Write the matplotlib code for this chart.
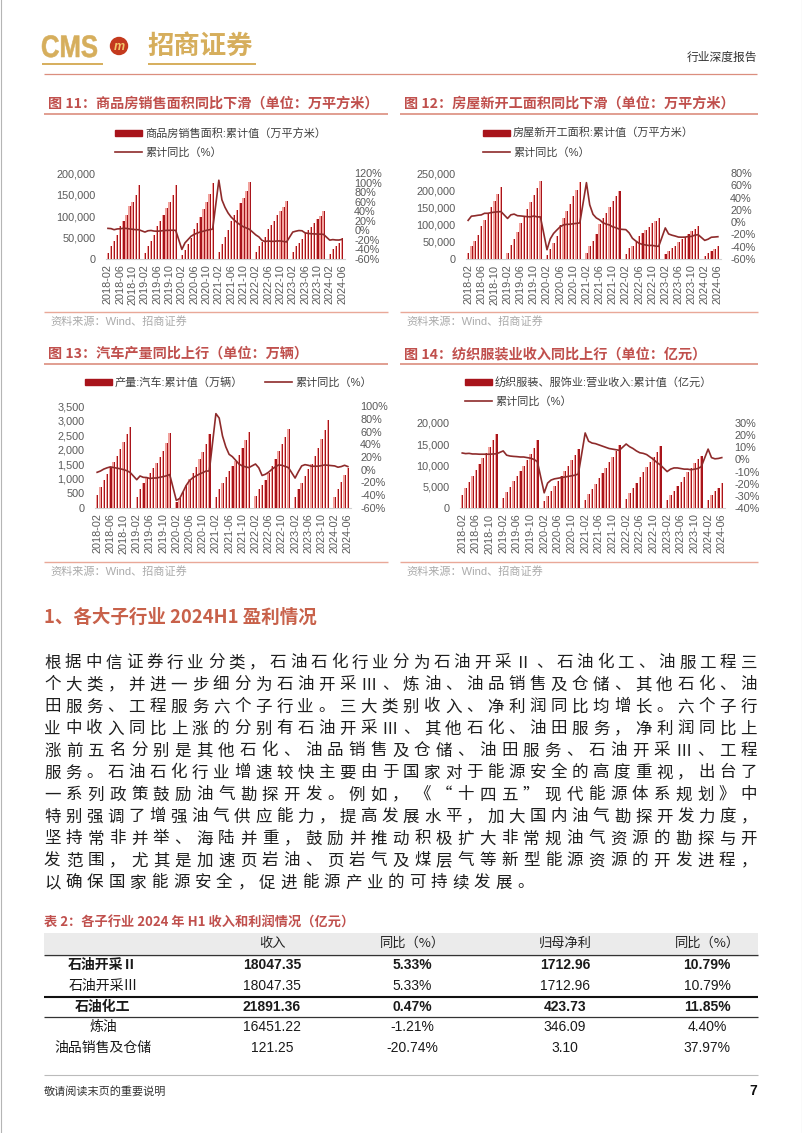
import numpy as np
import matplotlib
matplotlib.use("Agg")
from matplotlib import pyplot as plt
from matplotlib.patches import Rectangle, Circle, PathPatch
from matplotlib.textpath import TextPath
from matplotlib.font_manager import FontProperties
from matplotlib.transforms import Affine2D

plt.rcParams['font.family'] = ['Liberation Sans', 'Noto Sans CJK SC', 'DejaVu Sans']
CJK = ['Noto Sans CJK SC', 'DejaVu Sans']

# ---- data -------------------------------------------------------------
months = []
for yr in range(2018, 2025):
    for mo in range(1, 13):
        if (yr == 2018 and mo < 2) or (yr == 2024 and mo > 6):
            continue
        months.append(f"{yr}-{mo:02d}")
# Jan is merged into Feb in the source data, so January has no value
x_valid = [i for i, m in enumerate(months) if not m.endswith("-01")]

# fig 11: 商品房销售面积 累计值 (万平方米) / 累计同比 (%)
sales_area = [14577, 30129, 42390, 55718, 77143, 88333, 102820, 124327, 133392, 148604, 171654,
              14102, 29829, 41099, 55518, 75786, 88760, 101849, 119200, 133251, 148905, 171558,
              8475, 21978, 33973, 48700, 69404, 83600, 98500, 117073, 133000, 150800, 176086,
              17363, 36007, 50300, 66400, 88635, 101600, 114200, 130300, 142700, 158000, 179433,
              15703, 31046, 39768, 50738, 68923, 78178, 87890, 101422, 111179, 121250, 135837,
              15133, 29946, 37636, 46440, 59515, 66563, 73949, 84806, 92579, 100509, 111735,
              11369, 22668, 29252, 36642, 47916]
sales_yoy = [4.1, 3.6, 1.3, 2.9, 3.3, 4.2, 4.0, 2.9, 2.2, 1.4, 1.3,
             -3.6, -0.9, -0.3, -1.6, -1.8, -1.3, -0.6, -0.1, 0.1, 0.2, -0.1,
             -39.9, -26.3, -19.3, -12.3, -8.4, -5.8, -3.3, -1.8, 0.0, 1.3, 2.6,
             104.9, 63.8, 48.1, 36.3, 27.7, 21.5, 15.9, 11.3, 7.3, 4.8, 1.9,
             -9.6, -13.8, -20.9, -23.6, -22.2, -23.1, -23.0, -22.2, -22.3, -23.3, -24.3,
             -3.6, -1.8, -0.4, -0.9, -5.3, -6.5, -7.1, -7.5, -7.8, -8.0, -8.5,
             -20.5, -19.4, -20.2, -20.3, -19.0]

# fig 12: 房屋新开工面积 累计值 (万平方米) / 累计同比 (%)
starts_area = [18124, 36482, 51064, 69900, 95817, 114000, 133000, 152000, 170000, 188895, 209342,
               18814, 40800, 57800, 77200, 105500, 124800, 144800, 165000, 187000, 205100, 227154,
               10370, 29700, 47200, 67300, 97536, 119200, 139600, 159400, 182100, 201000, 224433,
               17040, 38100, 53200, 71900, 101000, 118100, 135100, 152200, 168100, 182700, 198895,
               14960, 31400, 39200, 49900, 66423, 75500, 84800, 94400, 104600, 111600, 120587,
               13567, 24121, 30900, 38600, 49880, 57000, 64100, 72300, 80300, 87900, 95376,
               9429, 17400, 23300, 29300, 38000]
starts_yoy = [2.9, 9.7, 10.3, 11.2, 11.8, 14.4, 14.4, 15.5, 16.3, 16.8, 17.2,
              6.0, 11.9, 13.1, 10.5, 10.1, 9.5, 8.9, 8.6, 10.0, 8.6, 8.5,
              -44.9, -27.2, -18.4, -12.8, -7.6, -4.5, -3.6, -3.4, -2.6, -2.0, -1.2,
              64.3, 28.2, 12.8, 6.9, 3.8, -0.9, -3.2, -4.5, -7.7, -9.1, -11.4,
              -12.2, -17.5, -26.3, -30.6, -34.4, -36.1, -37.2, -38.0, -37.8, -38.9, -39.4,
              -9.4, -19.2, -21.2, -22.6, -24.3, -24.5, -24.4, -23.4, -23.2, -21.2, -20.4,
              -29.7, -27.8, -24.6, -24.2, -23.7]

# fig 13: 产量:汽车 累计值 (万辆) / 累计同比 (%)
car_output = [431, 711, 946, 1178, 1406, 1594, 1799, 2035, 2272, 2540, 2781,
              374, 655, 860, 1045, 1213, 1363, 1535, 1750, 1960, 2240, 2572,
              195, 347, 557, 776, 1011, 1197, 1416, 1671, 1927, 2211, 2523,
              390, 635, 857, 1058, 1257, 1445, 1620, 1824, 2057, 2317, 2608,
              420, 662, 783, 977, 1212, 1457, 1693, 1963, 2202, 2439, 2702,
              384, 641, 850, 1081, 1325, 1526, 1780, 2070, 2380, 2690, 3016,
              391, 660, 900, 1140, 1389]
car_yoy = [-4.0, -2.0, 1.0, 3.0, 4.5, 3.5, 2.5, 1.5, 0.2, -1.5, -4.2,
           -15.6, -9.8, -11.9, -12.2, -13.7, -13.0, -12.9, -11.8, -10.8, -9.5, -7.5,
           -48.0, -45.2, -35.0, -24.5, -17.0, -12.5, -9.7, -6.7, -4.6, -2.0, -2.0,
           88.0, 81.0, 53.0, 36.0, 24.2, 20.5, 14.8, 9.0, 6.0, 4.5, 3.4,
           9.0, 3.0, -9.0, -7.1, -3.7, 0.8, 4.5, 7.5, 7.0, 5.3, 3.4,
           -13.0, -3.0, 6.0, 8.0, 7.0, 5.5, 5.5, 5.6, 6.5, 7.5, 7.0,
           6.0, 4.0, 5.0, 7.0, 5.0]

# fig 14: 纺织服装、服饰业 营业收入 累计值 (亿元) / 累计同比 (%)
textile_rev = [3000, 4600, 6100, 7600, 9000, 10400, 11700, 13000, 14300, 15900, 17400,
               2400, 3800, 5000, 6300, 7500, 8800, 9900, 11200, 12600, 14200, 16000,
               1600, 2800, 3900, 5100, 6400, 7600, 8700, 10000, 11300, 12500, 13800,
               1900, 3200, 4400, 5700, 7000, 8300, 9500, 10800, 12000, 13400, 14900,
               2100, 3500, 4700, 5900, 7200, 8500, 9600, 10900, 12100, 13200, 14500,
               1900, 3100, 4100, 5100, 6200, 7300, 8400, 9500, 10700, 11600, 12200,
               2000, 3000, 3900, 4800, 5800]
textile_yoy = [5.3, 4.8, 5.0, 4.5, 4.5, 4.3, 4.3, 4.3, 4.3, 4.5, 4.6,
               7.0, 3.5, 2.8, 2.5, 2.3, 2.0, 2.0, 1.5, 1.0, 0.0, -1.8,
               -27.5, -19.5, -17.0, -16.0, -15.5, -15.0, -14.5, -14.0, -13.5, -13.0, -12.0,
               21.8, 15.0, 13.5, 13.0, 12.0, 11.0, 10.0, 9.0, 8.5, 8.0, 7.5,
               12.7, 10.5, 9.0, 7.0, 5.5, 5.0, 4.0, 2.0, 0.0, -2.5, -4.5,
               -10.0, -8.0, -7.0, -7.0, -7.5, -8.0, -8.0, -8.5, -8.0, -7.5, -6.0,
               8.5, 1.5, 0.5, 0.8, 1.5]

# table 2
tbl_header = ["收入", "同比（%）", "归母净利", "同比（%）"]
tbl_rows = ["石油开采Ⅱ", "石油开采Ⅲ", "石油化工", "炼油", "油品销售及仓储"]
tbl_revenue = ["18047.35", "18047.35", "21891.36", "16451.22", "121.25"]
tbl_rev_yoy = ["5.33%", "5.33%", "0.47%", "-1.21%", "-20.74%"]
tbl_profit = ["1712.96", "1712.96", "423.73", "346.09", "3.10"]
tbl_profit_yoy = ["10.79%", "10.79%", "11.85%", "4.40%", "37.97%"]
tbl_bold = [True, False, True, False, False]

body_lines = [
    "根据中信证券行业分类，石油石化行业分为石油开采Ⅱ、石油化工、油服工程三",
    "个大类，并进一步细分为石油开采Ⅲ、炼油、油品销售及仓储、其他石化、油",
    "田服务、工程服务六个子行业。三大类别收入、净利润同比均增长。六个子行",
    "业中收入同比上涨的分别有石油开采Ⅲ、其他石化、油田服务，净利润同比上",
    "涨前五名分别是其他石化、油品销售及仓储、油田服务、石油开采Ⅲ、工程",
    "服务。石油石化行业增速较快主要由于国家对于能源安全的高度重视，出台了",
    "一系列政策鼓励油气勘探开发。例如，《“十四五”现代能源体系规划》中",
    "特别强调了增强油气供应能力，提高发展水平，加大国内油气勘探开发力度，",
    "坚持常非并举、海陆并重，鼓励并推动积极扩大非常规油气资源的勘探与开",
    "发范围，尤其是加速页岩油、页岩气及煤层气等新型能源资源的开发进程，",
    "以确保国家能源安全，促进能源产业的可持续发展。",
]

# ---- page -------------------------------------------------------------
W, H = 802, 1133
fig = plt.figure(figsize=(W / 100, H / 100), dpi=100)
page = fig.add_axes([0, 0, 1, 1])
page.set_xlim(0, W)
page.set_ylim(H, 0)
page.axis("off")

RED_T = "#C0504D"
SALMON = "#DB8E7E"
GOLD = "#D6AE5C"
BAR_DARK = "#A8141B"
BAR_LIGHT = "#F2A39E"
LINE_C = "#8E2B2B"
PX = 1 / 1.389  # px -> pt at 100 dpi


def hline(y, x0, x1, color, lw=1.0):
    page.plot([x0, x1], [y, y], color=color, lw=lw, solid_capstyle="butt")


# edges of the page
page.plot([0.5, 0.5], [0, H], color="#B5B5B5", lw=0.8)
page.plot([W - 0.5, W - 0.5], [0, H], color="#B5B5B5", lw=0.8)

# header: condensed "CMS" drawn as a scaled text path
tp = TextPath((0, 0), "CMS", size=30, prop=FontProperties(family="Liberation Sans", weight="bold"))
bb = tp.get_extents()
sx, sy = 55 / bb.width, 22 / bb.height
page.add_patch(PathPatch(tp, facecolor=GOLD, edgecolor=GOLD, lw=0.4,
                         transform=Affine2D().scale(sx, -sy).translate(42 - bb.x0 * sx, 57) + page.transData))
page.add_patch(Circle((119, 46), 8.5, color="#C43A1E", zorder=3))
page.text(119, 46.5, "m", fontsize=9, color="#F2C86A", ha="center", va="center",
          fontweight="bold", fontstyle="italic", zorder=4)
page.text(147, 46, "招商证券", fontsize=19, color=GOLD, va="center", ha="left",
          family=CJK, fontweight="bold")
hline(64, 42, 103, GOLD, 1.4)
hline(64, 148, 256, GOLD, 1.4)
page.text(757, 57, "行业深度报告", fontsize=8.5, color="#333333", ha="right", va="center", family=CJK)
hline(73.5, 44, 757, SALMON, 0.9)


def chart(box, title, legend, bars, yoy, lmax, lstep, rmin, rmax, rstep, src_y):
    x0, x1, top, bottom = box["axes"]
    tx0, tx1 = box["frame"]
    ty = box["title_y"]
    page.text(tx0 + 4, ty, title, fontsize=10.2, color=RED_T, fontweight="bold", va="center", family=CJK)
    hline(ty + 10, tx0, tx1, SALMON, 1.2)
    for kind, lx, ly, label in legend:
        if kind == "bar":
            page.add_patch(Rectangle((lx, ly - 3), 27, 6, color=BAR_DARK))
        else:
            page.plot([lx, lx + 27], [ly, ly], color=LINE_C, lw=1.2)
        page.text(lx + 30, ly, label, fontsize=8, color="#404040", va="center")
    hline(src_y - 9, tx0, tx1, "#E9A898", 1.0)
    page.text(tx0 + 6, src_y, "资料来源：Wind、招商证券", fontsize=8, color="#ABABAB", va="center")

    ax = fig.add_axes([x0 / W, 1 - bottom / H, (x1 - x0) / W, (bottom - top) / H])
    ax.patch.set_alpha(0)
    xv = np.array(x_valid)
    ax.bar(xv, bars, width=0.74, color=BAR_LIGHT, zorder=2)
    ax.bar(xv + 0.2, bars, width=0.34, color=BAR_DARK, zorder=3)
    ax.set_xlim(-0.8, len(months) - 0.2)
    ax.set_ylim(0, lmax)
    lt = np.arange(0, lmax + 1, lstep)
    ax.set_yticks(lt)
    ax.set_yticklabels([f"{int(v):,}" for v in lt])
    ax.set_xticks(range(0, len(months), 4))
    ax.set_xticklabels(months[::4], rotation=90)

    ax2 = ax.twinx()
    ax2.plot(xv, yoy, color=LINE_C, lw=1.2, zorder=4)
    ax2.set_ylim(rmin, rmax)
    rt = np.arange(rmin, rmax + 1, rstep)
    ax2.set_yticks(rt)
    ax2.set_yticklabels([f"{int(v)}%" for v in rt])

    for a in (ax, ax2):
        for s in a.spines.values():
            s.set_visible(False)
        a.tick_params(length=0, labelsize=7.8, colors="#595959", pad=7)
    ax.spines["bottom"].set_visible(True)
    ax.spines["bottom"].set_color("#D0D0D0")
    ax.tick_params(axis="x", pad=4)


chart({"axes": (105.5, 344.5, 173, 259), "frame": (44, 388), "title_y": 104},
      "图 11：商品房销售面积同比下滑（单位：万平方米）",
      [("bar", 115, 133, "商品房销售面积:累计值（万平方米）"), ("line", 115, 152, "累计同比（%）")],
      sales_area, sales_yoy, 200000, 50000, -60, 120, 20, 321)

chart({"axes": (465.5, 720.5, 173, 259), "frame": (400, 758), "title_y": 104},
      "图 12：房屋新开工面积同比下滑（单位：万平方米）",
      [("bar", 483, 133, "房屋新开工面积:累计值（万平方米）"), ("line", 483, 152, "累计同比（%）")],
      starts_area, starts_yoy, 250000, 50000, -60, 80, 20, 321)

chart({"axes": (94.5, 350.5, 406, 508), "frame": (44, 388), "title_y": 354},
      "图 13：汽车产量同比上行（单位：万辆）",
      [("bar", 85, 382, "产量:汽车:累计值（万辆）"), ("line", 265, 382, "累计同比（%）")],
      car_output, car_yoy, 3500, 500, -60, 100, 20, 571)

chart({"axes": (459.5, 724.5, 423, 508), "frame": (400, 758), "title_y": 354},
      "图 14：纺织服装业收入同比上行（单位：亿元）",
      [("bar", 465, 382, "纺织服装、服饰业:营业收入:累计值（亿元）"), ("line", 465, 401, "累计同比（%）")],
      textile_rev, textile_yoy, 20000, 5000, -40, 30, 10, 571)

# section heading and body text
page.text(44, 617, "1、各大子行业 2024H1 盈利情况", fontsize=13.3, color="#C8614A",
          fontweight="bold", va="center", family=CJK)

fs_px = 16.5
for k, line in enumerate(body_lines):
    y = 663 + k * 22
    widths = [0.55 if ord(c) < 128 else 1.0 for c in line]
    total = sum(widths) * fs_px
    gap = (757 - 44 - total) / (len(line) - 1) if k < len(body_lines) - 1 else 5.0
    x = 44
    for c, w in zip(line, widths):
        page.text(x, y, c, fontsize=fs_px * PX, color="#1E1E1E", ha="left", va="center", family=CJK)
        x += w * fs_px + gap

# table 2
page.text(44, 923, "表 2：各子行业 2024 年 H1 收入和利润情况（亿元）", fontsize=9.5,
          color=RED_T, fontweight="bold", va="center", family=CJK)
page.add_patch(Rectangle((44, 933), 714, 21, color="#EBEBEB", lw=0))
col_x = [103, 272, 412, 565, 707]
for cx, h in zip(col_x[1:], tbl_header):
    page.text(cx, 943, h, fontsize=9.5, ha="center", va="center", color="#222222", family=CJK)
hline(954.5, 44, 758, "#333333", 1.0)
row_y = [965, 986, 1007, 1027, 1048]
for i, ry in enumerate(row_y):
    wt = "bold" if tbl_bold[i] else "normal"
    cells = [tbl_rows[i], tbl_revenue[i], tbl_rev_yoy[i], tbl_profit[i], tbl_profit_yoy[i]]
    for cx, cell in zip(col_x, cells):
        page.text(cx, ry, cell, fontsize=10, ha="center", va="center", color="#1A1A1A", fontweight=wt)
hline(996.5, 44, 758, "#111111", 1.5)
hline(1017, 44, 758, "#333333", 0.9)

# footer
hline(1075, 44, 758, "#BBBBBB", 0.8)
page.text(44, 1091, "敬请阅读末页的重要说明", fontsize=8, color="#333333", va="center", family=CJK)
page.text(757, 1091, "7", fontsize=10, color="#111111", ha="right", va="center", fontweight="bold")

fig.savefig("out.png", dpi=100)
